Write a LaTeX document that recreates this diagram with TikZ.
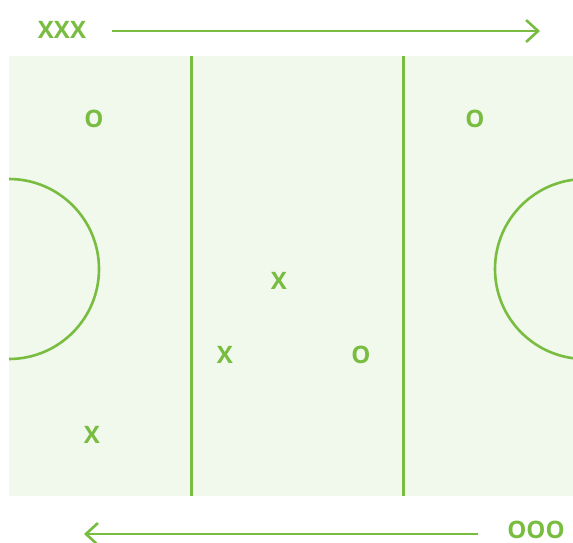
\documentclass[tikz,border=0pt]{standalone}
\usepackage{fontspec}
\setmainfont{Open Sans}
\usetikzlibrary{arrows.meta}
\definecolor{pitchgreen}{RGB}{120,188,64}
\definecolor{pitchfill}{RGB}{241,248,236}

\begin{document}
\begin{tikzpicture}[x=1pt,y=-1pt,
    line/.style={draw=pitchgreen,line width=2.6pt},
    player/.style={text=pitchgreen,inner sep=0pt,
      font=\fontsize{24}{24}\selectfont\bfseries},
    run/.style={line,-{Straight Barb[length=12pt,width=22pt]}}]
  \clip (0,0) rectangle (573,543);
  \fill[pitchfill] (9,56) rectangle (585,496);
  \begin{scope}
    \clip (9,56) rectangle (585,496);
    \draw[line] (9,269) circle (90pt);
    \draw[line] (585,269) circle (90pt);
  \end{scope}
  \draw[line] (191.5,56) -- (191.5,496);
  \draw[line] (403.5,56) -- (403.5,496);
  % players
  \node[player] (xtop)   at (279,281) {X};
  \node[player] (xleft)  at (225,355) {X};
  \node[player] (xlow)   at (92,435)  {X};
  \node[player] (oleft)  at (94,119)  {O};
  \node[player] (oright) at (475,119) {O};
  \node[player] (omid)   at (361,355) {O};
  % teams and directions
  \node[player] (teamx) at (62,30)  {XXX};
  \node[player] (teamo) at (536,530) {OOO};
  \coordinate (xfrom) at (112,31);
  \coordinate (xto)   at (540,31);
  \coordinate (ofrom) at (478,534);
  \coordinate (oto)   at (84,534);
  \draw[run] (xfrom) -- (xto);
  \draw[run] (ofrom) -- (oto);
\end{tikzpicture}
\end{document}
